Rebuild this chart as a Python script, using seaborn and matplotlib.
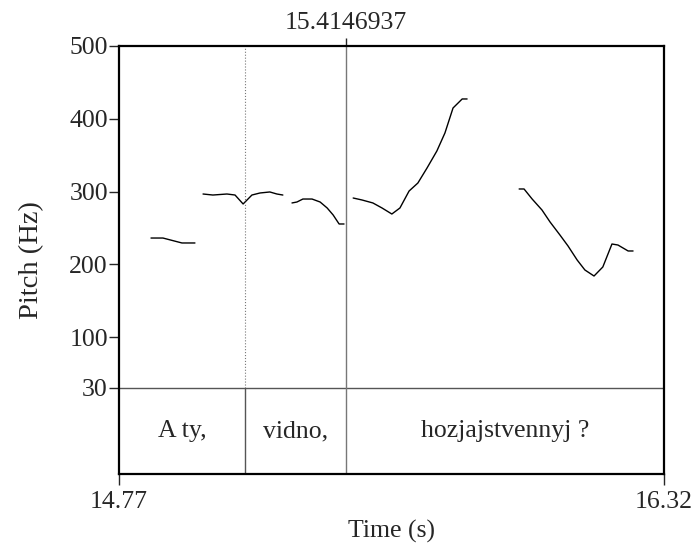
import numpy as np
import pandas as pd
import matplotlib
matplotlib.use("Agg")
import matplotlib.pyplot as plt
import seaborn as sns

# pitch contour segments (time in s, pitch in Hz)
seg1_t = [14.861, 14.895, 14.949, 14.986]
seg1_f = [236.1, 236.1, 229.3, 229.3]
seg2_t = [15.009, 15.037, 15.077, 15.100, 15.123, 15.148, 15.171, 15.199, 15.219, 15.236]
seg2_f = [296.6, 295.2, 296.6, 295.2, 282.9, 295.2, 298.0, 299.4, 296.6, 295.2]
seg3_t = [15.262, 15.276, 15.293, 15.319, 15.342, 15.362, 15.379, 15.396, 15.410]
seg3_f = [284.3, 285.6, 289.7, 289.7, 285.6, 277.4, 267.8, 255.4, 255.4]
seg4_t = [15.436, 15.461, 15.492, 15.518, 15.546, 15.569, 15.595, 15.620, 15.646,
          15.674, 15.697, 15.720, 15.746, 15.760]
seg4_f = [291.1, 288.4, 284.3, 277.4, 269.1, 277.4, 300.7, 311.7, 332.3,
          355.7, 380.5, 414.8, 427.2, 427.2]
seg5_t = [15.908, 15.922, 15.945, 15.973, 15.996, 16.024, 16.047, 16.073, 16.095,
          16.121, 16.146, 16.172, 16.189, 16.218, 16.232]
seg5_f = [303.5, 303.5, 289.7, 274.6, 258.1, 240.3, 225.2, 205.9, 192.2,
          183.9, 196.3, 227.9, 226.5, 218.3, 218.3]

# text tier
t_start, t_end = 14.77, 16.32
boundaries = [15.128, 15.4146937]
words = ["A ty,", "vidno,", "hozjajstvennyj ?"]
y_ticks = [30, 100, 200, 300, 400, 500]
f_min, f_max = 30, 500

segments = [(seg1_t, seg1_f), (seg2_t, seg2_f), (seg3_t, seg3_f), (seg4_t, seg4_f), (seg5_t, seg5_f)]
df = pd.concat([pd.DataFrame({"time": t, "pitch": f, "seg": i})
                for i, (t, f) in enumerate(segments)], ignore_index=True)

sns.set_theme(style="white")
plt.rcParams["font.family"] = ["Liberation Serif", "DejaVu Serif"]
FS = 18.5

fig = plt.figure(figsize=(6.99, 5.49), dpi=100)
ax = fig.add_axes([119 / 699, 1 - 474 / 549, 545 / 699, 428 / 549])

# tier area lives below f_min on the same axes
tier_h = (474 - 388) / (388 - 46) * (f_max - f_min)
y_bottom = f_min - tier_h

sns.lineplot(data=df, x="time", y="pitch", units="seg", estimator=None,
             color="black", lw=1, ax=ax)

ax.axhline(f_min, color="#555555", lw=1)
# first boundary: dotted in pitch area, solid in tier
ax.plot([boundaries[0]] * 2, [f_min, f_max], color="#777777", lw=0.8, ls=":")
ax.plot([boundaries[0]] * 2, [y_bottom, f_min], color="#555555", lw=1)
# cursor boundary: solid the full height
ax.plot([boundaries[1]] * 2, [y_bottom, f_max], color="#777777", lw=1)

edges = [t_start] + boundaries + [t_end]
for w, a, b in zip(words, edges[:-1], edges[1:]):
    ax.text((a + b) / 2, f_min - tier_h / 2, w, ha="center", va="center", fontsize=FS)

ax.set_xlim(t_start, t_end)
ax.set_ylim(y_bottom, f_max)
ax.set_yticks(y_ticks)
ax.set_xticks([t_start, t_end], labels=["14.77", "16.32"])
ax.tick_params(axis="y", direction="out", length=7, width=1, pad=1, left=True, labelsize=FS)
ax.tick_params(axis="x", direction="out", length=8, width=1, pad=4.5, bottom=True, labelsize=FS)
ax.set_xlabel("Time (s)", fontsize=FS, labelpad=5)
ax.set_ylabel("Pitch (Hz)", fontsize=20.5, labelpad=18)

top = ax.secondary_xaxis("top")
top.set_xticks([boundaries[1]], labels=["15.4146937"])
top.tick_params(direction="out", length=6, width=1, pad=2.5, labelsize=FS)
top.spines["top"].set_visible(False)

for s in ax.spines.values():
    s.set_color("black")
    s.set_linewidth(1.6)

fig.savefig("out.png", dpi=100)
